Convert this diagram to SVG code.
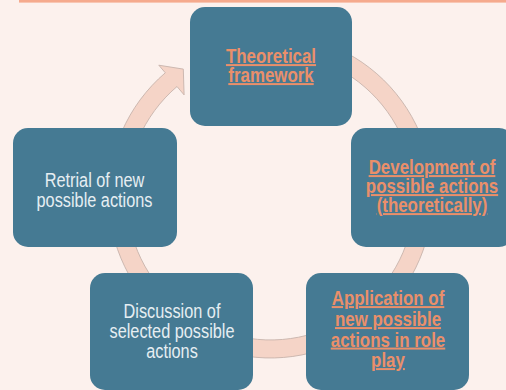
<svg xmlns="http://www.w3.org/2000/svg" width="506" height="390" viewBox="0 0 506 390">
<style>
.bg{fill:#FCF1ED}
.bar{fill:#F5AA8D}
.box{fill:#457A93}
.ring{fill:#F5D4C7;stroke:#C7B3AC;stroke-width:0.9}
.o{font-family:"Liberation Sans",Arial,sans-serif;font-size:20px;font-weight:bold;fill:#EA8F6A;text-anchor:middle;text-decoration:underline}
.w{font-family:"Liberation Sans",Arial,sans-serif;font-size:20px;fill:#E6EEF2;text-anchor:middle}
</style>
<rect class="bg" x="0" y="0" width="506" height="390"/>
<rect class="bar" x="19" y="0" width="487" height="2.6"/>
<g id="connectors">
<path class="ring" d="M 284.6 34.6 A 162 162 0 1 1 165.3 72.8 L 158.8 65.2 L 183.3 69.1 L 184.1 94.9 L 177.0 86.5 A 144 144 0 1 0 283.1 52.5 Z"/>
</g>
<g id="node-theoretical">
<rect class="box" x="190" y="7" width="162" height="119" rx="15"/>
<text class="o" transform="translate(271 63) scale(0.845 1)">Theoretical</text>
<text class="o" transform="translate(271 82) scale(0.845 1)">framework</text>
</g>
<g id="node-development">
<rect class="box" x="351" y="128" width="163" height="119" rx="15"/>
<text class="o" transform="translate(432 174) scale(0.845 1)">Development of</text>
<text class="o" transform="translate(432 193) scale(0.845 1)">possible actions</text>
<text class="o" transform="translate(432 212) scale(0.845 1)">(theoretically)</text>
</g>
<g id="node-application">
<rect class="box" x="306" y="273" width="163" height="117" rx="15"/>
<text class="o" transform="translate(388 305) scale(0.845 1)">Application of</text>
<text class="o" transform="translate(388 326) scale(0.845 1)">new possible</text>
<text class="o" transform="translate(388 346.5) scale(0.845 1)">actions in role</text>
<text class="o" transform="translate(388 367) scale(0.845 1)">play</text>
</g>
<g id="node-discussion">
<rect class="box" x="90" y="273" width="163" height="117" rx="15"/>
<text class="w" transform="translate(172 317.5) scale(0.815 1)">Discussion of</text>
<text class="w" transform="translate(172 337.8) scale(0.815 1)">selected possible</text>
<text class="w" transform="translate(172 358.2) scale(0.815 1)">actions</text>
</g>
<g id="node-retrial">
<rect class="box" x="13" y="128" width="164" height="119" rx="15"/>
<text class="w" transform="translate(94.5 187.3) scale(0.815 1)">Retrial of new</text>
<text class="w" transform="translate(94.5 206.7) scale(0.815 1)">possible actions</text>
</g>
</svg>
